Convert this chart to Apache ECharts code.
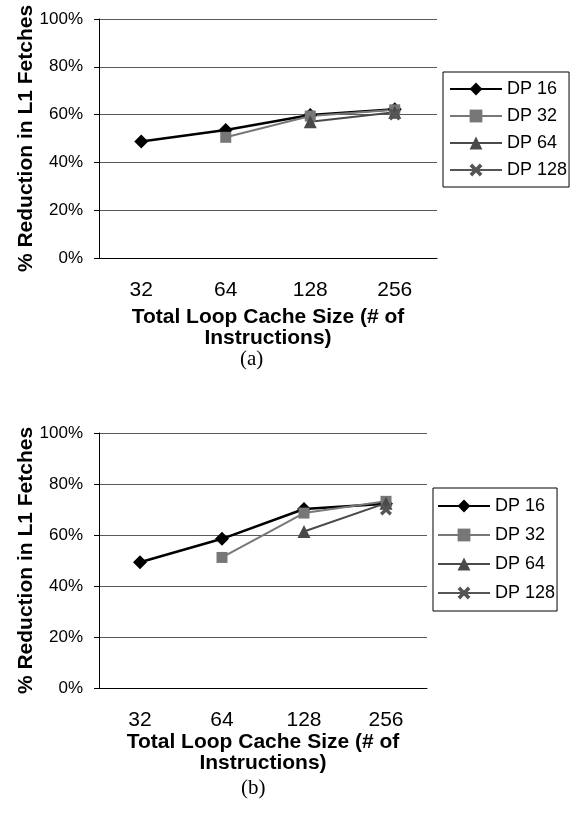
<!DOCTYPE html>
<html>
<head>
<meta charset="utf-8">
<script src="https://cdn.jsdelivr.net/npm/echarts@6/dist/echarts.min.js"></script>
<style>
  html, body { margin: 0; padding: 0; background: #fff; }
  #main { width: 571px; height: 815px; }
</style>
</head>
<body>
<div id="main"></div>
<script>
// cache sizes on the x axis
var cacheSizes = ["32", "64", "128", "256"];
var seriesNames = ["DP 16", "DP 32", "DP 64", "DP 128"];

// (a) % reduction in L1 fetches
var topDP16 = [48.7, 53.6, 59.8, 62.2];
var topDP32 = [null, 50.5, 59.4, 62.0];
var topDP64 = [null, null, 57.0, 61.0];
var topDP128 = [null, null, null, 60.0];

// (b) % reduction in L1 fetches
var botDP16 = [49.3, 58.5, 70.2, 72.3];
var botDP32 = [null, 51.2, 68.6, 73.2];
var botDP64 = [null, null, 61.4, 72.5];
var botDP128 = [null, null, null, 70.0];

var font = "'Liberation Sans', Arial, sans-serif";
var crossPath = "path://M0,2 L2,0 L5,3 L8,0 L10,2 L7,5 L10,8 L8,10 L5,7 L2,10 L0,8 L3,5 Z";

var styles = [
  { color: "#000000", symbol: "diamond", size: 14, width: 2.5 },
  { color: "#777777", symbol: "rect", size: 11, width: 2 },
  { color: "#4a4a4a", symbol: "triangle", size: 13, width: 2 },
  { color: "#555555", symbol: crossPath, size: 12, width: 2 }
];

function makeSeries(idx, data, gridIdx) {
  var s = styles[idx];
  return {
    name: seriesNames[idx],
    type: "line",
    xAxisIndex: gridIdx,
    yAxisIndex: gridIdx,
    data: data,
    symbol: s.symbol,
    symbolSize: s.size,
    lineStyle: { color: s.color, width: s.width },
    itemStyle: { color: s.color },
    emphasis: { disabled: true }
  };
}

function xAxisFor(gridIdx, gap) {
  return {
    type: "category",
    gridIndex: gridIdx,
    data: cacheSizes,
    boundaryGap: true,
    axisLine: { lineStyle: { color: "#000", width: 1 } },
    axisTick: { length: 5, lineStyle: { color: "#000" } },
    axisLabel: { color: "#000", fontSize: 21, fontFamily: font, margin: 22 },
    name: "Total Loop Cache Size (# of\nInstructions)",
    nameLocation: "middle",
    nameGap: gap,
    nameMoveOverlap: false,
    nameTextStyle: { color: "#000", fontSize: 21, fontWeight: "bold", fontFamily: font, lineHeight: 21 }
  };
}

function yAxisFor(gridIdx) {
  return {
    type: "value",
    gridIndex: gridIdx,
    min: 0,
    max: 100,
    interval: 20,
    axisLine: { show: true, lineStyle: { color: "#000", width: 1 } },
    axisTick: { show: true, length: 5, lineStyle: { color: "#000" } },
    axisLabel: { color: "#000", fontSize: 17, fontFamily: font, margin: 16, formatter: "{value}%" },
    splitLine: { lineStyle: { color: "#5a5a5a", width: 1 } },
    name: "% Reduction in L1 Fetches",
    nameLocation: "middle",
    nameGap: 62,
    nameMoveOverlap: false,
    nameTextStyle: { color: "#000", fontSize: 21, fontWeight: "bold", fontFamily: font }
  };
}

function legendFor(left, top, gap, pad) {
  return {
    orient: "vertical",
    left: left,
    top: top,
    data: seriesNames,
    itemWidth: 52,
    itemHeight: 16,
    itemGap: gap,
    padding: pad,
    borderColor: "#000",
    borderWidth: 1,
    selectedMode: false,
    textStyle: { color: "#000", fontSize: 18, fontFamily: font, lineHeight: 18 }
  };
}

var chart = echarts.init(document.getElementById("main"));
chart.setOption({
  animation: false,
  backgroundColor: "#fff",
  grid: [
    { left: 99, top: 19, width: 338, height: 239, outerBoundsMode: "none" },
    { left: 99, top: 433, width: 328, height: 255, outerBoundsMode: "none" }
  ],
  xAxis: [xAxisFor(0, 49), xAxisFor(1, 44)],
  yAxis: [yAxisFor(0), yAxisFor(1)],
  legend: [
    legendFor(443, 72, 9, [8, 2, 8, 6]),
    legendFor(433, 488, 11, [9, 2, 9, 4])
  ],
  graphic: [
    { type: "text", left: 240, top: 349, style: { text: "(a)", fill: "#000", font: "21px 'Liberation Serif', 'Times New Roman', serif" } },
    { type: "text", left: 241, top: 778, style: { text: "(b)", fill: "#000", font: "21px 'Liberation Serif', 'Times New Roman', serif" } }
  ],
  series: [
    makeSeries(0, topDP16, 0),
    makeSeries(1, topDP32, 0),
    makeSeries(2, topDP64, 0),
    makeSeries(3, topDP128, 0),
    makeSeries(0, botDP16, 1),
    makeSeries(1, botDP32, 1),
    makeSeries(2, botDP64, 1),
    makeSeries(3, botDP128, 1)
  ]
});
</script>
</body>
</html>
